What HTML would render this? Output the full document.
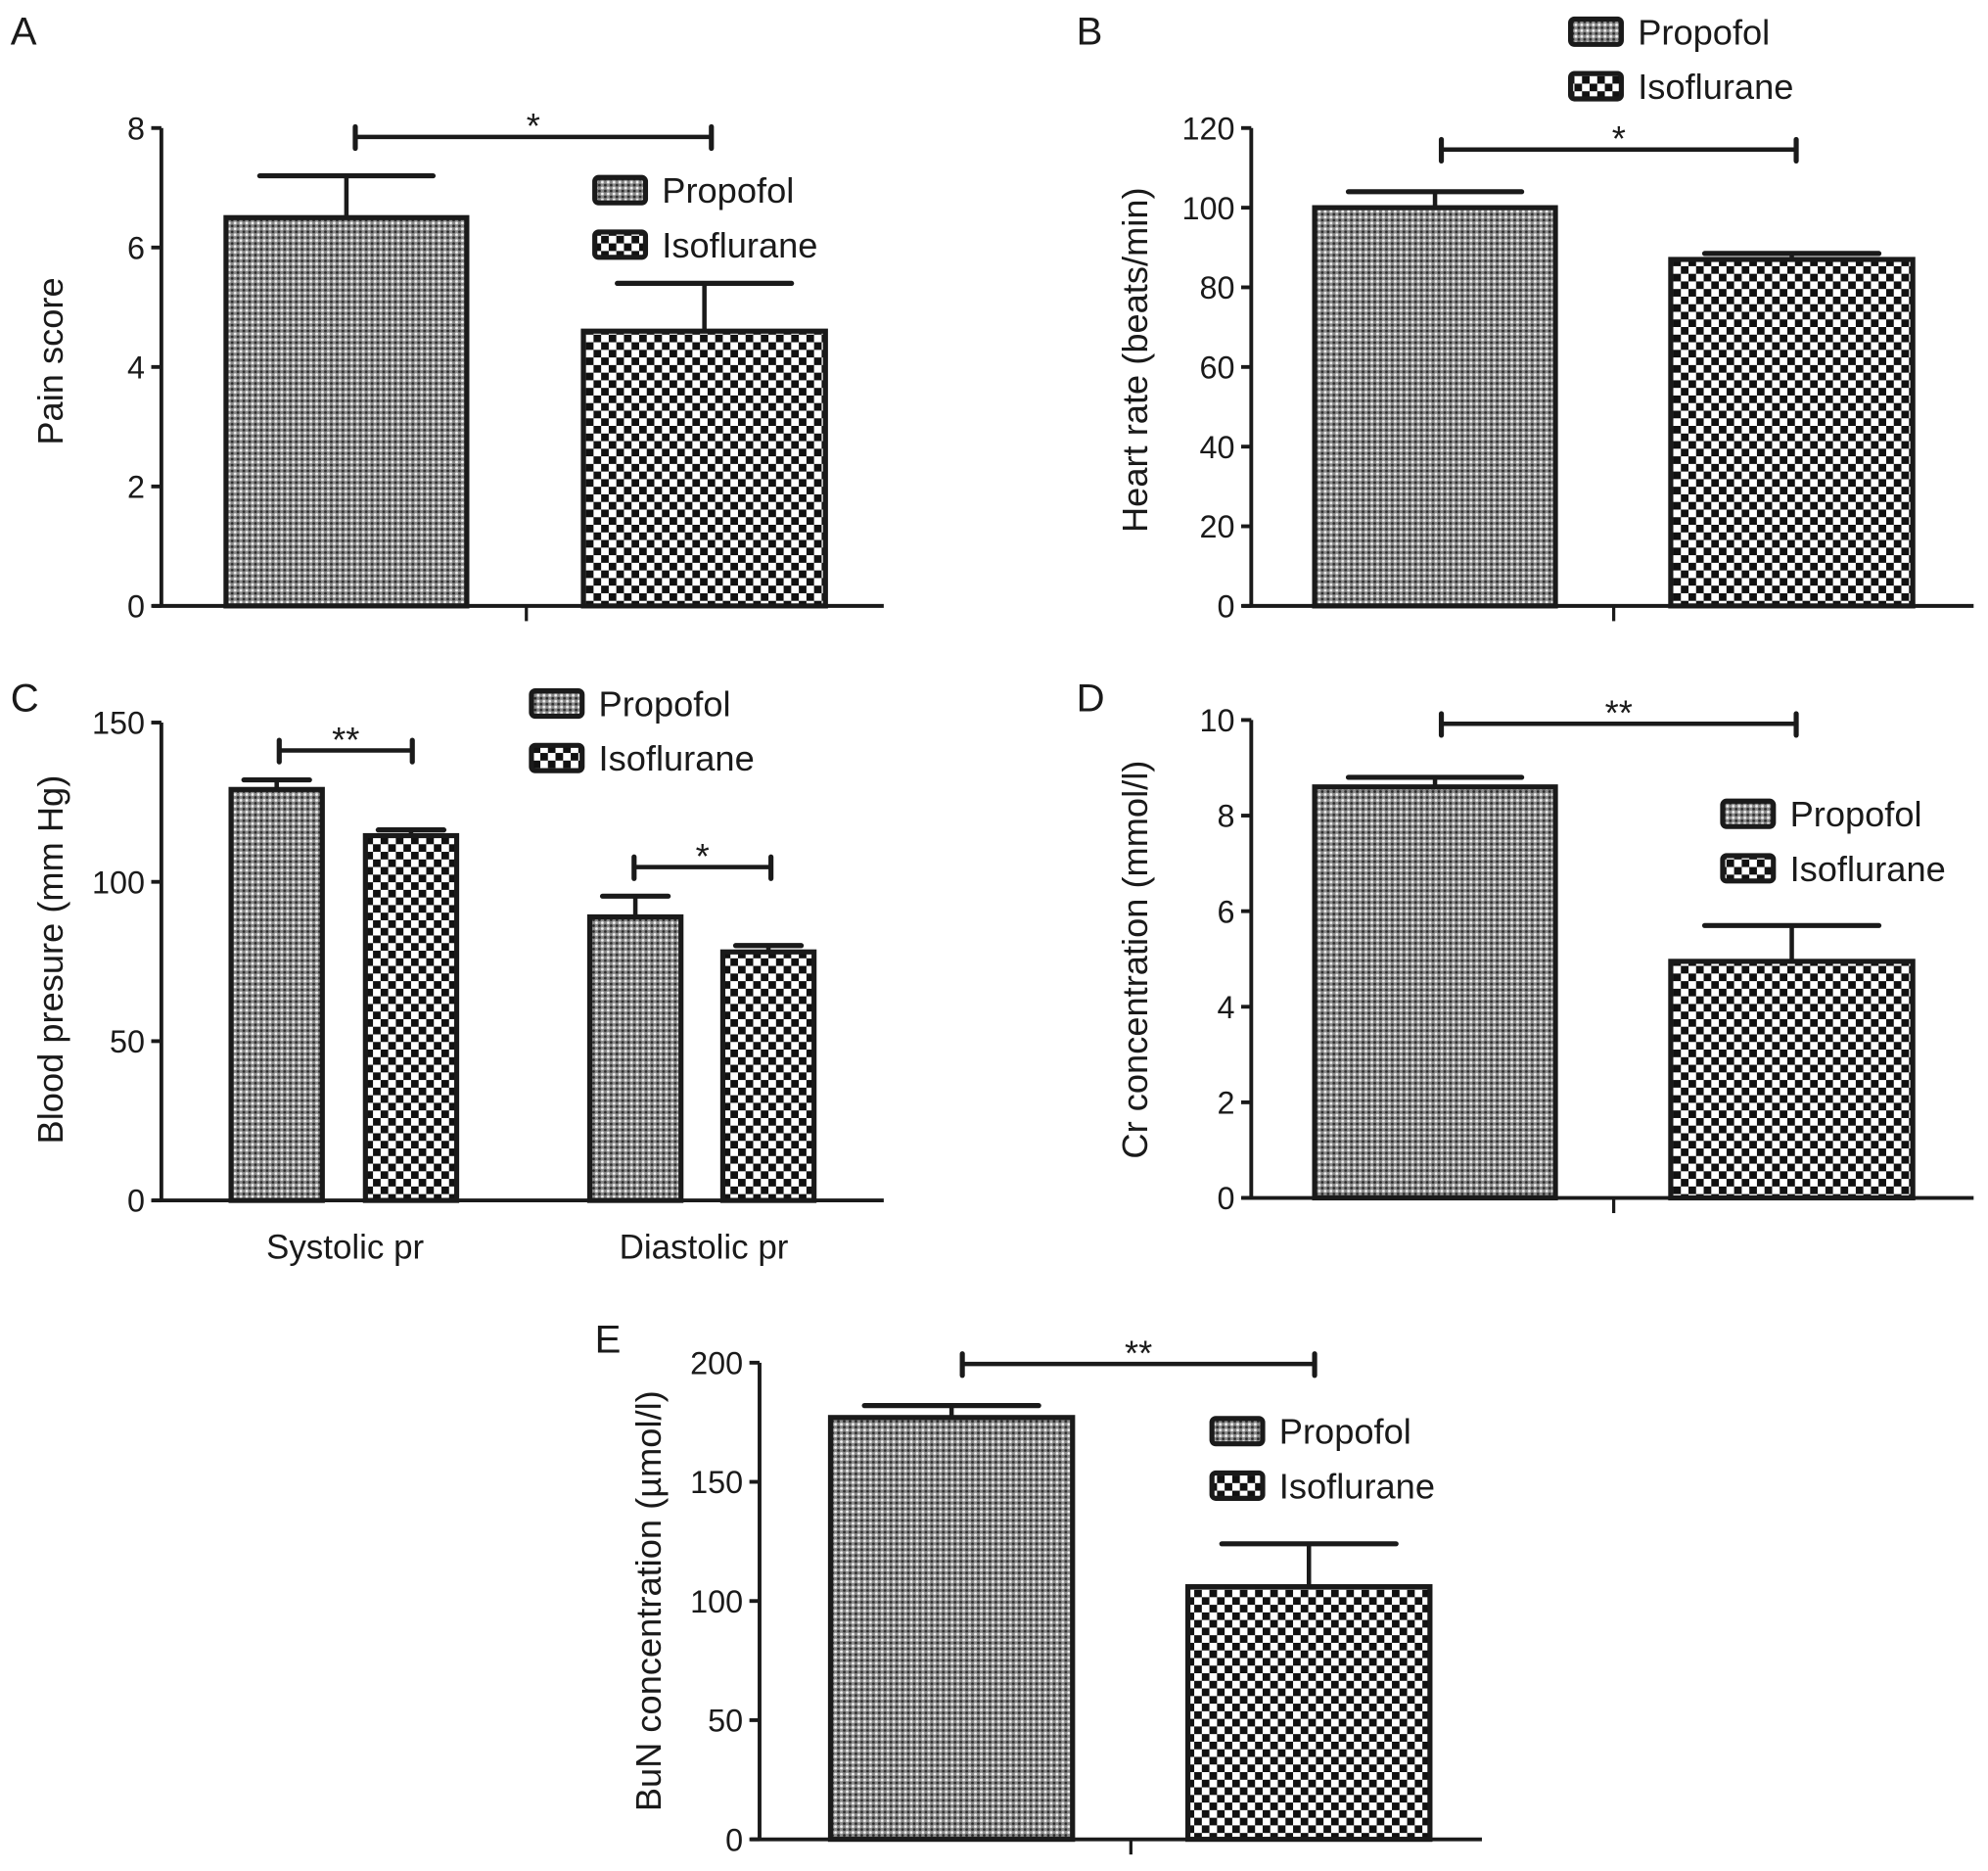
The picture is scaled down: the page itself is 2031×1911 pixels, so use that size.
<!DOCTYPE html>
<html><head><meta charset="utf-8"><style>
html,body{margin:0;padding:0;background:#fff;}
svg{display:block;}
text{font-family:"Liberation Sans",sans-serif;fill:#1a1a1a;}
</style></head><body>
<svg id="fig" width="2031" height="1911" viewBox="0 0 1568 1476" xmlns="http://www.w3.org/2000/svg">
<defs>
<pattern id="pDots" patternUnits="userSpaceOnUse" width="4.6" height="4.6">
<rect width="4.6" height="4.6" fill="#8a8a8a"/>
<circle cx="1.15" cy="1.15" r="1.1" fill="#f2f2f2"/>
<circle cx="3.45" cy="3.45" r="1.1" fill="#2a2a2a"/>
</pattern>
<pattern id="pCheck" patternUnits="userSpaceOnUse" width="12" height="12">
<rect width="12" height="12" fill="#fff"/>
<rect x="0" y="0" width="6" height="6" fill="#111"/>
<rect x="6" y="6" width="6" height="6" fill="#111"/>
</pattern>
</defs>
</svg>
<script>
// Panel A
const catsA = ["Propofol","Isoflurane"];
const valsA = [6.5, 4.6];
const errsA = [0.7, 0.8];
const ticksA = [0,2,4,6,8];
// Panel B
const valsB = [100, 87];
const errsB = [4, 1.5];
const ticksB = [0,20,40,60,80,100,120];
// Panel C
const catsC = ["Systolic pr","Diastolic pr"];
const propC = [129, 89];
const propErrC = [3, 6.5];
const isoC = [114.5, 78];
const isoErrC = [1.8, 2];
const ticksC = [0,50,100,150];
// Panel D
const valsD = [8.6, 4.95];
const errsD = [0.2, 0.75];
const ticksD = [0,2,4,6,8,10];
// Panel E
const valsE = [177, 106];
const errsE = [5, 18];
const ticksE = [0,50,100,150,200];

const svg = document.getElementById('fig');
const NS = "http://www.w3.org/2000/svg";
function mk(tag, attrs, parent, txt){
  const e = document.createElementNS(NS, tag);
  for (const k in attrs) e.setAttribute(k, attrs[k]);
  if (txt !== undefined) e.textContent = txt;
  (parent||svg).appendChild(e);
  return e;
}
function panel(cfg){
  const g = mk('g', {});
  
  
  const y = v => cfg.y0 - (v - cfg.ticks[0]) / (cfg.max - cfg.ticks[0]) * (cfg.y0 - cfg.yTop);
  const L = mk('text', {x: cfg.letter[0], y: cfg.letter[1], 'font-size': 31}, g, cfg.id);
  
  
  const ya = mk('line', {x1: cfg.ax, y1: cfg.y0, x2: cfg.ax, y2: cfg.yTop, stroke: '#1a1a1a', 'stroke-width': 3}, g);
  
  
  cfg.ticks.forEach(t => {
    mk('line', {x1: cfg.ax - 8, y1: y(t), x2: cfg.ax, y2: y(t), stroke: '#1a1a1a', 'stroke-width': 3}, g);
    const tl = mk('text', {x: cfg.ax - 13, y: y(t) + 9, 'font-size': 25, 'text-anchor': 'end'}, g, String(t));
    
    
  });
  const xa = mk('line', {x1: cfg.ax - 7, y1: cfg.y0, x2: cfg.ax + 570, y2: cfg.y0, stroke: '#1a1a1a', 'stroke-width': 3}, g);
  
  
  cfg.xTicks.forEach(xt => mk('line', {x1: xt, y1: cfg.y0, x2: xt, y2: cfg.y0 + 12, stroke: '#1a1a1a', 'stroke-width': 2.5}, g));
  const yt = mk('text', {x: cfg.ylx, y: cfg.yly, 'font-size': 28, 'text-anchor': 'middle', transform: `rotate(-90 ${cfg.ylx} ${cfg.yly})`}, g, cfg.ylabel);
  
  
  cfg.bars.forEach(b => {
    const capW = (b.x1 - b.x0) * 0.36;
    const cx = (b.x0 + b.x1) / 2;
    mk('line', {x1: cx, y1: y(b.v), x2: cx, y2: y(b.v + b.e), stroke: '#1a1a1a', 'stroke-width': 3.5}, g);
    mk('line', {x1: cx - capW, y1: y(b.v + b.e), x2: cx + capW, y2: y(b.v + b.e), stroke: '#1a1a1a', 'stroke-width': 4, 'stroke-linecap': 'round'}, g);
    const r = mk('rect', {x: b.x0, y: y(b.v), width: b.x1 - b.x0, height: cfg.y0 - y(b.v), fill: b.iso ? 'url(#pCheck)' : 'url(#pDots)', stroke: '#1a1a1a', 'stroke-width': 4}, g);
    
    
  });
  cfg.sig.forEach(s => {
    const sg = mk('g', {}, g);
    
    
    mk('line', {x1: s.x0, y1: s.y, x2: s.x1, y2: s.y, stroke: '#1a1a1a', 'stroke-width': 3.5}, sg);
    mk('line', {x1: s.x0, y1: s.y - 8, x2: s.x0, y2: s.y + 9, stroke: '#1a1a1a', 'stroke-width': 4, 'stroke-linecap': 'round'}, sg);
    mk('line', {x1: s.x1, y1: s.y - 8, x2: s.x1, y2: s.y + 9, stroke: '#1a1a1a', 'stroke-width': 4, 'stroke-linecap': 'round'}, sg);
    mk('text', {x: (s.x0 + s.x1) / 2, y: s.y + 1, 'font-size': 28, 'text-anchor': 'middle'}, sg, s.t);
  });
  const lg = mk('g', {}, g);
  
  
  catsA.forEach((c, i) => {
    const ly = cfg.leg[1] + i * 43;
    const e = mk('g', {}, lg);
    
    
    mk('rect', {x: cfg.leg[0], y: ly, width: 40, height: 20, rx: 3, fill: i ? 'url(#pCheck)' : 'url(#pDots)', stroke: '#1a1a1a', 'stroke-width': 4}, e);
    mk('text', {x: cfg.leg[0] + 53, y: ly + 20, 'font-size': 28}, e, c);
  });
  (cfg.xlabels || []).forEach(xl => {
    const t = mk('text', {x: xl.x, y: cfg.y0 + 46, 'font-size': 27, 'text-anchor': 'middle'}, g, xl.t);
    
    
  });
}

panel({id: 'A', letter: [8, 35], ax: 127, y0: 478, yTop: 101, max: 8, ticks: ticksA,
  xTicks: [415], ylabel: 'Pain score', ylx: 49, yly: 285, leg: [469, 140],
  bars: [{x0: 178, x1: 368, v: valsA[0], e: errsA[0], name: 'bar-propofol'},
         {x0: 460, x1: 651, v: valsA[1], e: errsA[1], iso: true, name: 'bar-isoflurane'}],
  sig: [{x0: 280, x1: 561, y: 108, t: '*'}]});

panel({id: 'B', letter: [849, 35], ax: 987, y0: 478, yTop: 101, max: 120, ticks: ticksB,
  xTicks: [1273], ylabel: 'Heart rate (beats/min)', ylx: 905, yly: 284, leg: [1239, 15],
  bars: [{x0: 1037, x1: 1227, v: valsB[0], e: errsB[0], name: 'bar-propofol'},
         {x0: 1318, x1: 1509, v: valsB[1], e: errsB[1], iso: true, name: 'bar-isoflurane'}],
  sig: [{x0: 1137, x1: 1417, y: 118, t: '*'}]});

panel({id: 'C', letter: [8, 561], ax: 127, y0: 947, yTop: 570, max: 150, ticks: ticksC,
  xTicks: [], ylabel: 'Blood presure (mm Hg)', ylx: 49, yly: 757, leg: [419, 545],
  xlabels: [{x: 272, t: catsC[0]}, {x: 555, t: catsC[1]}],
  bars: [{x0: 182, x1: 254, v: propC[0], e: propErrC[0], name: 'bar-systolic-propofol'},
         {x0: 288, x1: 360, v: isoC[0], e: isoErrC[0], iso: true, name: 'bar-systolic-isoflurane'},
         {x0: 465, x1: 537, v: propC[1], e: propErrC[1], name: 'bar-diastolic-propofol'},
         {x0: 570, x1: 642, v: isoC[1], e: isoErrC[1], iso: true, name: 'bar-diastolic-isoflurane'}],
  sig: [{x0: 220, x1: 325, y: 592, t: '**'}, {x0: 500, x1: 608, y: 684, t: '*'}]});

panel({id: 'D', letter: [849, 561], ax: 987, y0: 945, yTop: 568, max: 10, ticks: ticksD,
  xTicks: [1273], ylabel: 'Cr concentration (mmol/l)', ylx: 905, yly: 757, leg: [1359, 632],
  bars: [{x0: 1037, x1: 1227, v: valsD[0], e: errsD[0], name: 'bar-propofol'},
         {x0: 1318, x1: 1509, v: valsD[1], e: errsD[1], iso: true, name: 'bar-isoflurane'}],
  sig: [{x0: 1137, x1: 1417, y: 571, t: '**'}]});

panel({id: 'E', letter: [469, 1067], ax: 599, y0: 1451, yTop: 1075, max: 200, ticks: ticksE,
  xTicks: [892], ylabel: 'BuN concentration (µmol/l)', ylx: 521, yly: 1263, leg: [956, 1119],
  bars: [{x0: 655, x1: 846, v: valsE[0], e: errsE[0], name: 'bar-propofol'},
         {x0: 937, x1: 1128, v: valsE[1], e: errsE[1], iso: true, name: 'bar-isoflurane'}],
  sig: [{x0: 759, x1: 1037, y: 1076, t: '**'}]});
</script>
</body></html>
